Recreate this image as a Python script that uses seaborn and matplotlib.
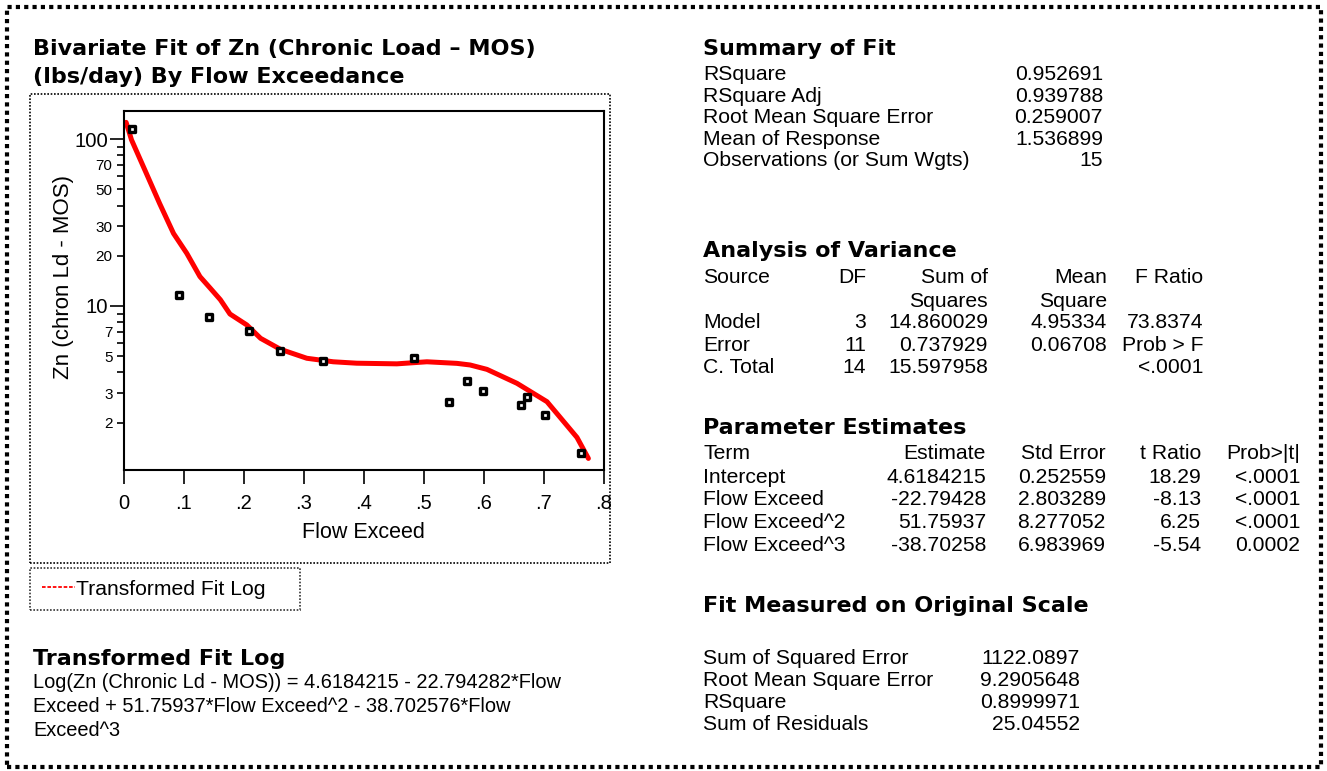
import matplotlib
matplotlib.use("Agg")
import matplotlib.pyplot as plt
from matplotlib.patches import Rectangle
from matplotlib.lines import Line2D
from matplotlib.ticker import FixedLocator, FixedFormatter
import seaborn as sns
import pandas as pd

flow_exceed = [0.013, 0.092, 0.142, 0.208, 0.261, 0.332, 0.483, 0.542, 0.572, 0.598, 0.662, 0.672, 0.702, 0.762]
zn_load = [115, 11.7, 8.6, 7.1, 5.4, 4.67, 4.86, 2.64, 3.56, 3.11, 2.56, 2.85, 2.23, 1.32]

# fitted curve as drawn
fit_x = [0.004, 0.013, 0.038, 0.060, 0.083, 0.105, 0.127, 0.144, 0.161, 0.177, 0.205, 0.228, 0.261,
         0.305, 0.349, 0.388, 0.455, 0.505, 0.555, 0.577, 0.605, 0.655, 0.705, 0.755, 0.774]
fit_y = [126, 99, 62, 41, 27.2, 20.7, 15.0, 12.8, 10.9, 8.95, 7.7, 6.4, 5.5,
         4.86, 4.63, 4.54, 4.5, 4.63, 4.53, 4.43, 4.17, 3.44, 2.67, 1.63, 1.22]

xticks = [0, 0.1, 0.2, 0.3, 0.4, 0.5, 0.6, 0.7, 0.8]
xtick_labels = ["0", ".1", ".2", ".3", ".4", ".5", ".6", ".7", ".8"]
ytick_major = [10, 100]
ytick_minor = [2, 3, 4, 5, 6, 7, 8, 9, 20, 30, 40, 50, 60, 70, 80, 90]
ytick_minor_labels = ["2", "3", "", "5", "", "7", "", "", "20", "30", "", "50", "", "70", "", ""]

title_lines = ["Bivariate Fit of Zn (Chronic Load \u2013 MOS)", "(lbs/day) By Flow Exceedance"]
equation_lines = ["Log(Zn (Chronic Ld - MOS)) = 4.6184215 - 22.794282*Flow",
                  "Exceed + 51.75937*Flow Exceed^2 - 38.702576*Flow",
                  "Exceed^3"]

summary_labels = ["RSquare", "RSquare Adj", "Root Mean Square Error", "Mean of Response",
                  "Observations (or Sum Wgts)"]
summary_values = ["0.952691", "0.939788", "0.259007", "1.536899", "15"]

anova_header = ["Source", "DF", "Sum of", "Mean", "F Ratio"]
anova_header2 = ["", "", "Squares", "Square", ""]
anova_rows = [["Model", "3", "14.860029", "4.95334", "73.8374"],
              ["Error", "11", "0.737929", "0.06708", "Prob > F"],
              ["C. Total", "14", "15.597958", "", "<.0001"]]

param_header = ["Term", "Estimate", "Std Error", "t Ratio", "Prob>|t|"]
param_rows = [["Intercept", "4.6184215", "0.252559", "18.29", "<.0001"],
              ["Flow Exceed", "-22.79428", "2.803289", "-8.13", "<.0001"],
              ["Flow Exceed^2", "51.75937", "8.277052", "6.25", "<.0001"],
              ["Flow Exceed^3", "-38.70258", "6.983969", "-5.54", "0.0002"]]

orig_labels = ["Sum of Squared Error", "Root Mean Square Error", "RSquare", "Sum of Residuals"]
orig_values = ["1122.0897", "9.2905648", "0.8999971", "25.04552"]

W, H = 1327, 771
BODY = 15.2
HEAD = 16
HEAD_FONT = ["DejaVu Sans"]
DOT = (0, (1, 1))

sns.set_theme(style="white")
plt.rcParams["font.family"] = ["Liberation Sans", "DejaVu Sans"]


def px(x, y):
    return x / W, 1 - y / H


def put(fig, x, y, s, size=BODY, head=False, ha="left"):
    if head:
        fig.text(*px(x, y), s, fontsize=HEAD, fontweight="bold", family=HEAD_FONT,
                 ha=ha, va="baseline", color="black")
    else:
        fig.text(*px(x, y), s, fontsize=size, ha=ha, va="baseline", color="black")


fig = plt.figure(figsize=(W / 100, H / 100), dpi=100)

# plot axes
l, b = px(123.7, 470)
r, t = px(604, 110.7)
ax = fig.add_axes([l, b, r - l, t - b])

pts = pd.DataFrame({"Flow Exceed": flow_exceed, "Zn": zn_load})
fit = pd.DataFrame({"Flow Exceed": fit_x, "Zn": fit_y})
sns.lineplot(data=fit, x="Flow Exceed", y="Zn", color="#ff0000", linewidth=3.6, sort=False, ax=ax, zorder=2)
sns.scatterplot(data=pts, x="Flow Exceed", y="Zn", marker="s", s=22, facecolor="white",
                edgecolor="black", linewidth=2.4, ax=ax, zorder=3)

ax.set_yscale("log")
ax.set_xlim(0, 0.8)
ax.set_ylim(1.04, 148)
ax.xaxis.set_major_locator(FixedLocator(xticks))
ax.xaxis.set_major_formatter(FixedFormatter(xtick_labels))
ax.yaxis.set_major_locator(FixedLocator(ytick_major))
ax.yaxis.set_major_formatter(FixedFormatter([str(v) for v in ytick_major]))
ax.yaxis.set_minor_locator(FixedLocator(ytick_minor))
ax.yaxis.set_minor_formatter(FixedFormatter(ytick_minor_labels))
ax.tick_params(axis="x", which="major", length=10, width=1.2, direction="out", labelsize=14.5, pad=7,
               bottom=True, colors="black")
ax.tick_params(axis="y", which="major", length=10, width=1.2, direction="out", labelsize=14.7, pad=1,
               left=True, colors="black")
ax.tick_params(axis="y", which="minor", length=5, width=1.2, direction="out", labelsize=11, pad=3,
               left=True, colors="black")
ax.set_xlabel("Flow Exceed", fontsize=15.5, color="black")
ax.set_ylabel("Zn (chron Ld - MOS)", fontsize=16, color="black")
ax.xaxis.set_label_coords(0.5, -(522 - 470) / 359.3)
ax.yaxis.set_label_coords(-(123.7 - 74) / 480.3, 0.537)
for sp in ax.spines.values():
    sp.set_visible(True)
    sp.set_color("black")
    sp.set_linewidth(1.5)
    sp.set_linestyle(DOT)

# frames
def frame(x0, y0, x1, y1, lw):
    fx0, fy1 = px(x0, y0)
    fx1, fy0 = px(x1, y1)
    fig.add_artist(Rectangle((fx0, fy0), fx1 - fx0, fy1 - fy0, transform=fig.transFigure,
                             fill=False, edgecolor="black", linewidth=lw, linestyle=DOT))

frame(7, 7, 1321, 767, 3.0)
frame(30, 94, 610, 563, 1.2)

# legend, stretched to the width of its box
handle = Line2D([], [], color="#ff0000", linewidth=1.3, linestyle=(0, (2, 1)))
lx0, ly0 = px(30, 568)
lx1, _ = px(300, 568)
leg = fig.legend([handle], ["Transformed Fit Log"], loc="upper left",
                 bbox_to_anchor=(lx0, ly0 - 0.05, lx1 - lx0, 0.05), mode="expand",
                 frameon=True, fancybox=False, fontsize=BODY, handlelength=1.6, handletextpad=0.05,
                 borderpad=0.55, borderaxespad=0, labelcolor="black")
leg.get_frame().set_edgecolor("black")
leg.get_frame().set_linestyle(DOT)
leg.get_frame().set_linewidth(1.2)

# left texts
put(fig, 33, 55, title_lines[0], head=True)
put(fig, 33, 83, title_lines[1], head=True)
put(fig, 33, 665, "Transformed Fit Log", head=True)
for i, s in enumerate(equation_lines):
    put(fig, 33, 688 + i * 24, s, size=14.4)

# summary of fit
put(fig, 703, 55, "Summary of Fit", head=True)
for i, (lab, val) in enumerate(zip(summary_labels, summary_values)):
    y = 80 + i * 21.6
    put(fig, 703, y, lab)
    put(fig, 1103, y, val, ha="right")

# analysis of variance
anova_x = [703, 866, 988, 1107, 1203]
put(fig, 703, 257, "Analysis of Variance", head=True)
for row, y in zip([anova_header, anova_header2] + anova_rows, [283, 307, 328, 351, 373]):
    for j, s in enumerate(row):
        put(fig, anova_x[j], y, s, ha="left" if j == 0 else "right")

# parameter estimates
param_x = [703, 986, 1106, 1201, 1300]
put(fig, 703, 434, "Parameter Estimates", head=True)
for row, y in zip([param_header] + param_rows, [459, 483, 505, 528, 551]):
    for j, s in enumerate(row):
        put(fig, param_x[j], y, s, ha="left" if j == 0 else "right")

# fit measured on original scale
put(fig, 703, 612, "Fit Measured on Original Scale", head=True)
for i, (lab, val) in enumerate(zip(orig_labels, orig_values)):
    y = 664 + i * 22
    put(fig, 703, y, lab)
    put(fig, 1080, y, val, ha="right")

fig.savefig("out.png", dpi=100, facecolor="white")
